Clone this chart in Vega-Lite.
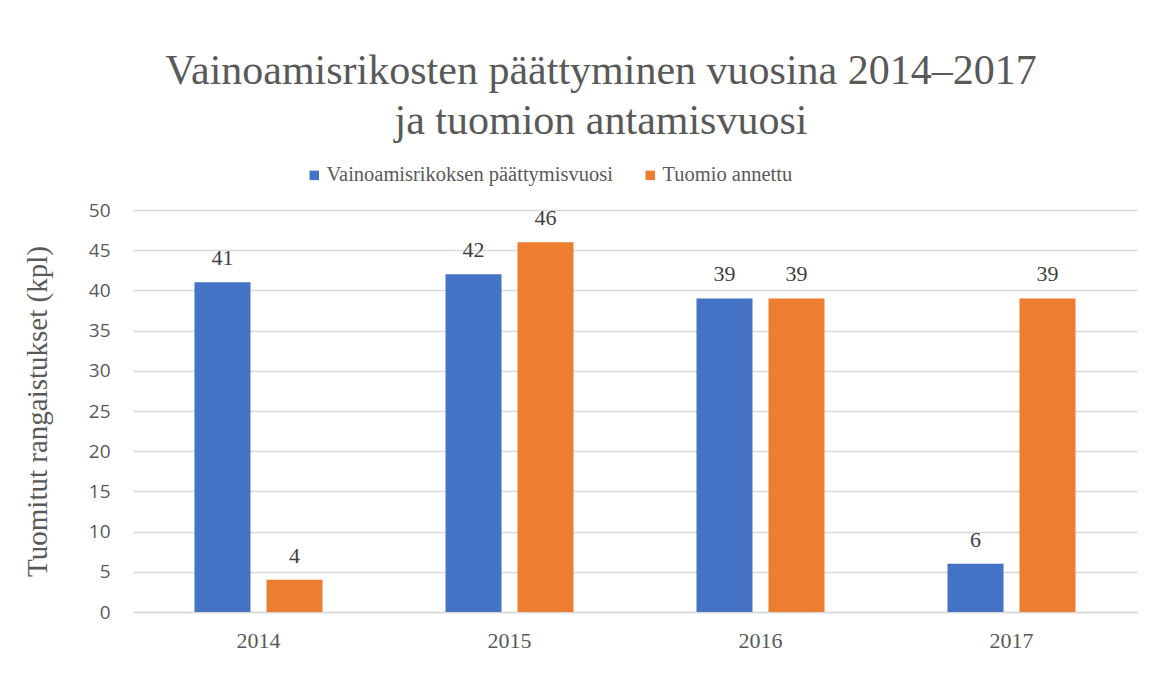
{
  "$schema": "https://vega.github.io/schema/vega-lite/v6.json",
  "width": 1004,
  "height": 402,
  "autosize": {"type": "none"},
  "padding": {"left": 133, "top": 210, "right": 16, "bottom": 63},
  "background": "white",
  "title": {
    "text": ["Vainoamisrikosten päättyminen vuosina 2014–2017", "ja tuomion antamisvuosi"],
    "font": "'Liberation Serif', 'Times New Roman', serif",
    "fontSize": 42,
    "fontWeight": "normal",
    "color": "#595959",
    "lineHeight": 50,
    "anchor": "middle",
    "frame": "group",
    "dx": -34,
    "offset": 22
  },
  "data": {
    "values": [
      {"year": "2014", "series": "Vainoamisrikoksen päättymisvuosi", "value": 41},
      {"year": "2014", "series": "Tuomio annettu", "value": 4},
      {"year": "2015", "series": "Vainoamisrikoksen päättymisvuosi", "value": 42},
      {"year": "2015", "series": "Tuomio annettu", "value": 46},
      {"year": "2016", "series": "Vainoamisrikoksen päättymisvuosi", "value": 39},
      {"year": "2016", "series": "Tuomio annettu", "value": 39},
      {"year": "2017", "series": "Vainoamisrikoksen päättymisvuosi", "value": 6},
      {"year": "2017", "series": "Tuomio annettu", "value": 39}
    ]
  },
  "encoding": {
    "x": {
      "field": "year",
      "type": "nominal",
      "scale": {"paddingInner": 0.49, "paddingOuter": 0.245},
      "axis": {
        "title": null,
        "labelAngle": 0,
        "labelFont": "'Liberation Serif', 'Times New Roman', serif",
        "labelFontSize": 22,
        "labelColor": "#595959",
        "labelPadding": 18,
        "ticks": false,
        "domainColor": "#d9d9d9",
        "domainWidth": 1.5
      }
    },
    "xOffset": {
      "field": "series",
      "type": "nominal",
      "sort": ["Vainoamisrikoksen päättymisvuosi", "Tuomio annettu"],
      "scale": {"paddingInner": 0.222, "paddingOuter": 0}
    },
    "y": {
      "field": "value",
      "type": "quantitative",
      "scale": {"domain": [0, 50], "nice": false},
      "axis": {
        "values": [0, 5, 10, 15, 20, 25, 30, 35, 40, 45, 50],
        "title": "Tuomitut rangaistukset (kpl)",
        "titleFont": "'Liberation Serif', 'Times New Roman', serif",
        "titleFontSize": 29,
        "titleFontWeight": "normal",
        "titleColor": "#595959",
        "titlePadding": 36,
        "labelFont": "Open Sans",
        "labelFontSize": 19,
        "labelColor": "#595959",
        "labelPadding": 23,
        "ticks": false,
        "domain": false,
        "gridColor": "#d9d9d9",
        "gridWidth": 1.5
      }
    }
  },
  "layer": [
    {
      "mark": {"type": "bar"},
      "encoding": {
        "color": {
          "field": "series",
          "type": "nominal",
          "sort": ["Vainoamisrikoksen päättymisvuosi", "Tuomio annettu"],
          "scale": {
            "domain": ["Vainoamisrikoksen päättymisvuosi", "Tuomio annettu"],
            "range": ["#4472c4", "#ed7d31"]
          },
          "legend": {
            "title": null,
            "orient": "none",
            "legendX": 171,
            "legendY": -45,
            "direction": "horizontal",
            "symbolType": "square",
            "symbolSize": 90,
            "symbolStrokeWidth": 0,
            "labelFont": "'Liberation Serif', 'Times New Roman', serif",
            "labelFontSize": 20.5,
            "labelColor": "#595959",
            "labelLimit": 500,
            "columnPadding": 27,
            "labelOffset": 2
          }
        }
      }
    },
    {
      "mark": {
        "type": "text",
        "baseline": "alphabetic",
        "dy": -17,
        "font": "'Liberation Serif', 'Times New Roman', serif",
        "fontSize": 22,
        "color": "#404040"
      },
      "encoding": {
        "text": {"field": "value", "type": "quantitative"}
      }
    }
  ],
  "config": {
    "view": {"stroke": null}
  }
}
